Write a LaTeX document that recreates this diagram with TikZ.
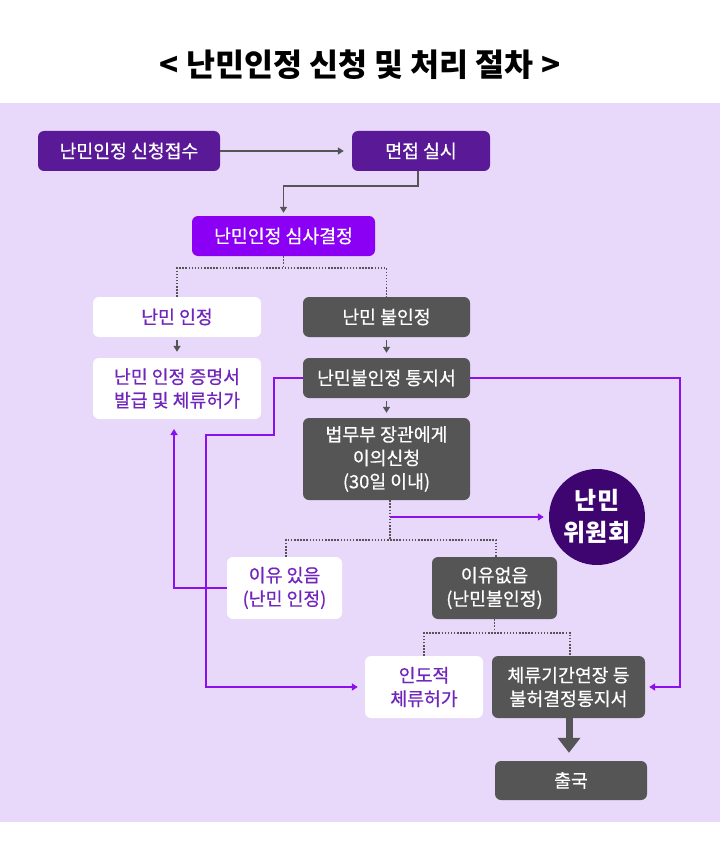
\documentclass[tikz,border=0pt]{standalone}
\usepackage{fontspec}
\setmainfont{Noto Sans CJK KR}
\newfontfamily\medfont{Noto Sans CJK KR}[FakeBold=0.6]
\usetikzlibrary{arrows.meta}
\definecolor{lav}{HTML}{E8D9FB}
\definecolor{dpurp}{HTML}{5A1A98}
\definecolor{bpurp}{HTML}{8B00F4}
\definecolor{dgray}{HTML}{555555}
\definecolor{ptext}{HTML}{7125BD}
\definecolor{circ}{HTML}{3E0570}
\definecolor{pline}{HTML}{8A10EE}
\tikzset{
  box/.style={rounded corners=6pt, inner sep=0pt, align=center,
    font=\medfont\fontsize{18.3}{23.5}\selectfont},
  dbox/.style={box, fill=dpurp, text=white},
  bbox/.style={box, fill=bpurp, text=white},
  gbox/.style={box, fill=dgray, text=white},
  wbox/.style={box, fill=white, text=ptext},
  garrow/.style={draw=dgray, line width=1.4pt, -{Triangle[length=6pt,width=7pt]}},
  parrow/.style={draw=pline, line width=1.6pt, -{Triangle[length=6pt,width=7pt]}},
  dotline/.style={draw=dgray, line width=1.6pt, dash pattern=on 1.5pt off 1.6pt},
}
\begin{document}
\begin{tikzpicture}[x=1pt,y=-1pt]
\useasboundingbox (0,0) rectangle (720,861);
\fill[white] (0,0) rectangle (720,861);
\fill[lav] (0,103) rectangle (720,822);
\node[font=\fontsize{31.5}{35}\selectfont\bfseries] (title) at (360,65) {< 난민인정 신청 및 처리 절차 >};

\node[dbox, minimum width=182pt, minimum height=40pt] (A) at (129,151) {난민인정 신청접수};
\node[dbox, minimum width=138pt, minimum height=40pt] (B) at (421,151) {면접 실시};
\node[bbox, minimum width=183pt, minimum height=40pt] (C) at (283.5,236) {난민인정 심사결정};
\node[wbox, minimum width=168pt, minimum height=40pt] (D) at (177,317) {난민 인정};
\node[gbox, minimum width=167pt, minimum height=40pt] (E) at (386.5,317) {난민 불인정};
\node[wbox, minimum width=168pt, minimum height=61pt] (F) at (177,388.5) {난민 인정 증명서\\발급 및 체류허가};
\node[gbox, minimum width=167pt, minimum height=40pt] (G) at (386.5,378) {난민불인정 통지서};
\node[gbox, minimum width=167pt, minimum height=82pt] (H) at (386.5,459) {법무부 장관에게\\이의신청\\(30일 이내)};
\node[circle, fill=circ, text=white, minimum size=96pt, inner sep=0pt, align=center,
  font=\fontsize{24}{32}\selectfont\bfseries] (W) at (597,517) {난민\\위원회};
\node[wbox, minimum width=115pt, minimum height=62pt] (I) at (284.5,588) {이유 있음\\(난민 인정)};
\node[gbox, minimum width=125pt, minimum height=62pt] (K) at (494.5,588) {이유없음\\(난민불인정)};
\node[wbox, minimum width=118pt, minimum height=62pt] (J) at (424,687) {인도적\\체류허가};
\node[gbox, minimum width=153pt, minimum height=62pt] (L) at (568.5,687) {체류기간연장 등\\불허결정통지서};
\node[gbox, minimum width=152pt, minimum height=39pt] (M) at (571,780.5) {출국};

% top flow
\draw[garrow, shorten >=8pt] (A.east) -- (B.west);
\coordinate (b1) at (418,186);
\draw[garrow, shorten >=3pt] (B.south -| b1) -- (b1) -| (C.north);

% decision split
\coordinate (c1) at (283.5,268);
\draw[dotline] (C.south) -- (c1);
\draw[dotline] (D.north) |- (c1) -| (E.north);
\draw[garrow, shorten >=6pt, shorten <=3pt] (D.south) -- (F.north);
\draw[garrow, shorten >=5pt, shorten <=3pt] (E.south) -- (G.north);
\draw[garrow, shorten >=5pt, shorten <=3pt] (G.south) -- (H.north);

% purple routes from notice
\coordinate (gr) at (680,378);
\draw[parrow, shorten >=4pt] (G.east) -- (gr) |- (L.east);
\coordinate (p1) at (274,435);
\coordinate (p2) at (206,687);
\draw[parrow, shorten >=7pt] (G.west) -| (p1) -| (p2) -- (J.west);

% objection outcome
\coordinate (h0) at (390,517);
\coordinate (h1) at (390,540);
\draw[dotline] (H.south -| h1) -- (h1);
\draw[parrow, shorten >=5pt] (h0) -- (W.west);
\coordinate (ix) at (286,0);
\coordinate (kx) at (496,0);
\draw[dotline] (I.north -| ix) |- (h1) -| (K.north -| kx);
\coordinate (fb) at (174,419);
\draw[parrow, shorten >=10pt] (I.west) -| (fb);

% final split
\coordinate (k1) at (494.5,633);
\coordinate (lx) at (570,0);
\coordinate (mx) at (569,0);
\draw[dotline] (K.south) -- (k1);
\draw[dotline] (J.north) |- (k1) -| (L.north -| lx);
\draw[draw=dgray, line width=7pt, -{Triangle[length=15pt,width=22pt]}, shorten >=8pt] (L.south -| mx) -- (M.north -| mx);
\end{tikzpicture}
\end{document}
